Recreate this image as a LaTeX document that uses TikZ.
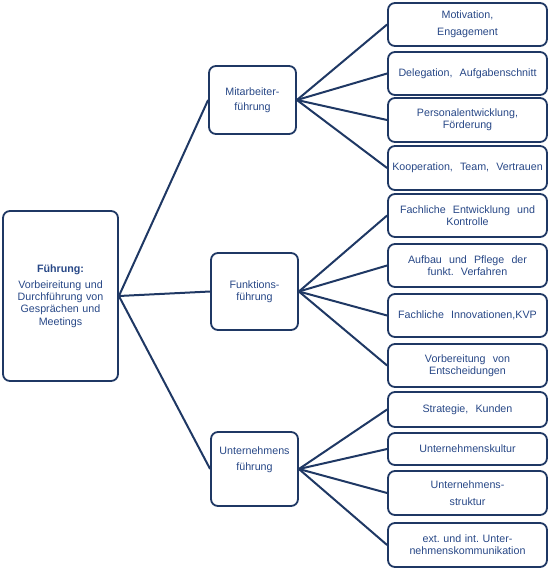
\documentclass[tikz,border=0pt]{standalone}
\usepackage{fontspec}
\setmainfont{Liberation Sans}
\definecolor{navy}{RGB}{31,56,100}
\definecolor{txt}{RGB}{40,72,135}
\begin{document}
\begin{tikzpicture}[x=1pt,y=1pt,
  box/.style={draw=navy,line width=1.8pt,rounded corners=7pt,fill=white,inner sep=1pt,
    text=txt,align=center,font=\fontsize{10.7}{12.3}\selectfont},
  grp/.style={box,minimum width=87pt},
  leaf/.style={box,minimum width=159pt,text width=155pt},
  conn/.style={draw=navy,line width=2pt}]
\useasboundingbox (0,0) rectangle (551,-573);
\node[box,minimum width=115pt,minimum height=170pt,text width=108pt] (F) at (60.5,-296)
  {\textbf{Führung:}\\[3.5pt]Vorbeireitung und\\Durchführung von\\Gesprächen und\\Meetings};
\node[grp,minimum height=68pt] (M) at (252.5,-100) {Mitarbeiter-\\[3pt]führung};
\node[grp,minimum height=77pt] (K) at (254.5,-291.5) {Funktions-\\führung};
\node[grp,minimum height=74pt] (U) at (254.5,-469) {};
\node[text=txt,align=center,font=\fontsize{10.7}{12.3}\selectfont] (Ut) at (254.5,-460) {Unternehmens\\[3.5pt]führung};
\node[leaf,minimum height=43pt] (L1) at (467.5,-24.5) {Motivation,\\[5pt]Engagement};
\node[leaf,minimum height=43pt] (L2) at (467.5,-73.5) {Delegation,\ \ Aufgabenschnitt};
\node[leaf,minimum height=44pt] (L3) at (467.5,-120) {Personalentwicklung,\\Förderung};
\node[leaf,minimum height=44pt] (L4) at (467.5,-168) {Kooperation,\ \ Team,\ \ Vertrauen};
\node[leaf,minimum height=43pt] (L5) at (467.5,-215.5) {Fachliche\ \ Entwicklung\ \ und\\Kontrolle};
\node[leaf,minimum height=43pt] (L6) at (467.5,-265.5) {Aufbau\ \ und\ \ Pflege\ \ der\\funkt.\ \ Verfahren};
\node[leaf,minimum height=43pt] (L7) at (467.5,-315.5) {Fachliche\ \ Innovationen,KVP};
\node[leaf,minimum height=43pt] (L8) at (467.5,-365.5) {Vorbereitung\ \ von\\Entscheidungen};
\node[leaf,minimum height=35pt] (L9) at (467.5,-409.5) {Strategie,\ \ Kunden};
\node[leaf,minimum height=32pt] (L10) at (467.5,-449) {Unternehmenskultur};
\node[leaf,minimum height=44pt] (L11) at (467.5,-493) {Unternehmens-\\[5pt]struktur};
\node[leaf,minimum height=44pt] (L12) at (467.5,-545) {ext.\ und\ int.\ Unter-\\nehmenskommunikation};
\foreach \g in {M,K,U} \draw[conn] (F.east) -- (\g.west);
\foreach \l in {L1,L2,L3,L4} \draw[conn] (M.east) -- (\l.west);
\foreach \l in {L5,L6,L7,L8} \draw[conn] (K.east) -- (\l.west);
\foreach \l in {L9,L10,L11,L12} \draw[conn] (U.east) -- (\l.west);
\end{tikzpicture}
\end{document}
